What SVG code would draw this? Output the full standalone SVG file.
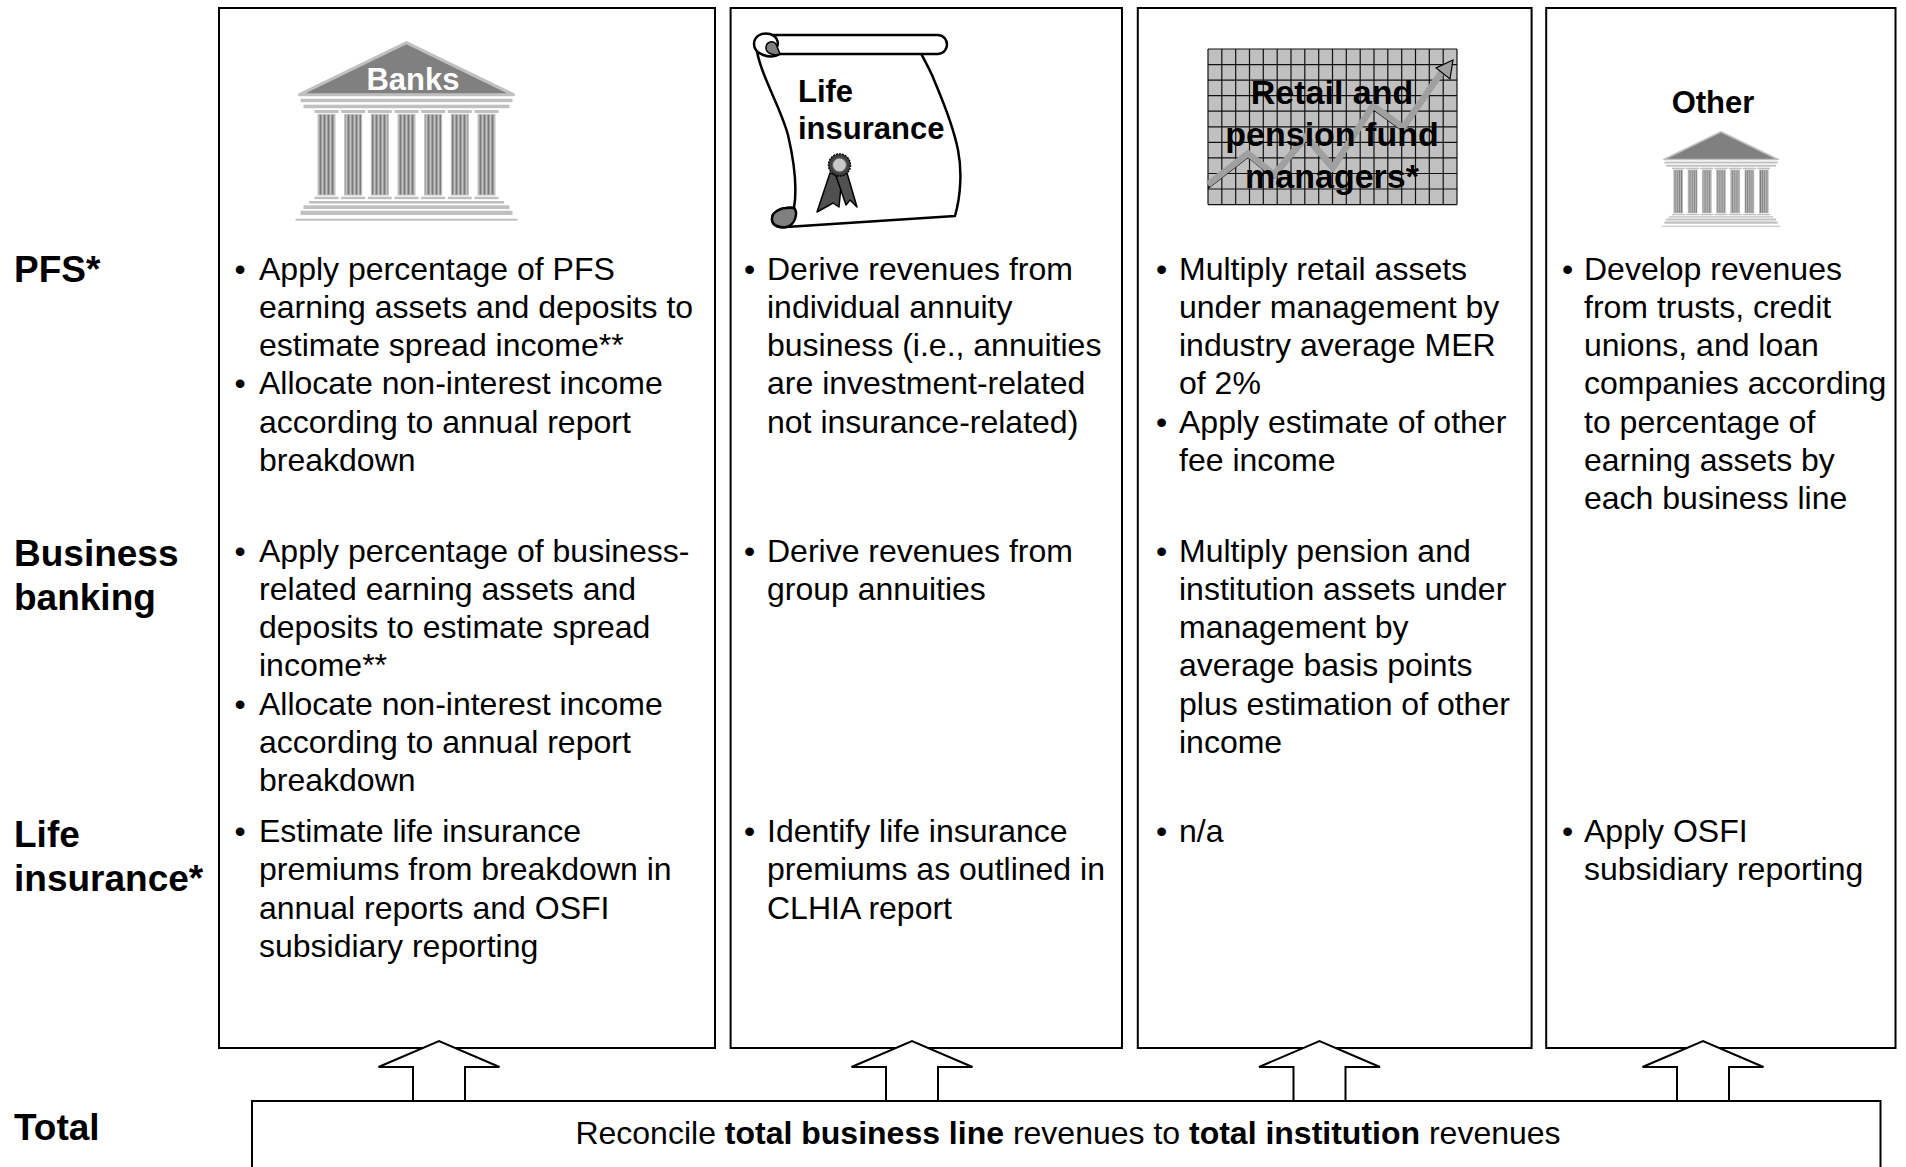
<svg xmlns="http://www.w3.org/2000/svg" width="1906" height="1167" viewBox="0 0 1906 1167">
<style>
.box{fill:#fff;stroke:#000;stroke-width:2}
.arrow{fill:#fff;stroke:#000;stroke-width:2;stroke-linejoin:miter}
.t{font-family:"Liberation Sans",Arial,sans-serif;font-size:32px;fill:#000}
.lbl{font-family:"Liberation Sans",Arial,sans-serif;font-size:37px;font-weight:bold;fill:#000}
.ico{font-family:"Liberation Sans",Arial,sans-serif;font-size:31px;font-weight:bold}
.chart{font-family:"Liberation Sans",Arial,sans-serif;font-size:34px;font-weight:bold;fill:#000}
.lt{fill:#c0c0c0}
.grid{stroke:#111;stroke-width:1.2}
</style>
<defs>
<pattern id="flute" width="4" height="10" patternUnits="userSpaceOnUse">
<rect width="4" height="10" fill="#c4c4c4"/>
<rect x="1" width="2" height="10" fill="#7a7a7a"/>
</pattern>
<g id="bank">
<polygon points="0,0 -107,52 107,52" fill="#808080" stroke="#c0c0c0" stroke-width="3" stroke-linejoin="round"/>
<rect class="lt" x="-106" y="56" width="212" height="3.5"/>
<rect class="lt" x="-103" y="62" width="206" height="3.5"/>
<g class="lt">
<rect x="-92" y="67.3" width="24" height="3"/><rect x="-65.3" y="67.3" width="24" height="3"/><rect x="-38.7" y="67.3" width="24" height="3"/><rect x="-12" y="67.3" width="24" height="3"/><rect x="14.7" y="67.3" width="24" height="3"/><rect x="41.3" y="67.3" width="24" height="3"/><rect x="68" y="67.3" width="24" height="3"/>
<rect x="-92" y="154" width="24" height="2.5"/><rect x="-65.3" y="154" width="24" height="2.5"/><rect x="-38.7" y="154" width="24" height="2.5"/><rect x="-12" y="154" width="24" height="2.5"/><rect x="14.7" y="154" width="24" height="2.5"/><rect x="41.3" y="154" width="24" height="2.5"/><rect x="68" y="154" width="24" height="2.5"/>
</g>
<g fill="url(#flute)" stroke="#c0c0c0" stroke-width="1">
<rect x="-88.5" y="71.6" width="17" height="80.7"/><rect x="-61.8" y="71.6" width="17" height="80.7"/><rect x="-35.2" y="71.6" width="17" height="80.7"/><rect x="-8.5" y="71.6" width="17" height="80.7"/><rect x="18.2" y="71.6" width="17" height="80.7"/><rect x="44.8" y="71.6" width="17" height="80.7"/><rect x="71.5" y="71.6" width="17" height="80.7"/>
</g>
<rect class="lt" x="-97.5" y="158.3" width="195" height="2.5"/>
<rect class="lt" x="-103" y="162.6" width="206" height="3.7"/>
<rect class="lt" x="-106" y="168" width="212" height="4.3"/>
<rect class="lt" x="-111" y="176" width="222" height="2"/>
</g>
</defs>

<g id="labels">
<text class="lbl" x="14" y="282">PFS*</text>
<text class="lbl" x="14" y="566">Business</text>
<text class="lbl" x="14" y="610">banking</text>
<text class="lbl" x="14" y="847">Life</text>
<text class="lbl" x="14" y="891">insurance*</text>
<text class="lbl" x="14" y="1140">Total</text>
</g>

<g id="node-banks">
<rect class="box" x="219" y="8" width="496" height="1040"/>
<use href="#bank" transform="translate(406.5,42.7)"/>
<text class="ico" x="413" y="90" text-anchor="middle" fill="#fff">Banks</text>
<g class="t">
<text x="234.6" y="279.5">•</text>
<text x="259" y="279.5"><tspan x="259" dy="0">Apply percentage of PFS</tspan><tspan x="259" dy="38.3">earning assets and deposits to</tspan><tspan x="259" dy="38.3">estimate spread income**</tspan></text>
<text x="234.6" y="394.4">•</text>
<text x="259" y="394.4"><tspan x="259" dy="0">Allocate non-interest income</tspan><tspan x="259" dy="38.3">according to annual report</tspan><tspan x="259" dy="38.3">breakdown</tspan></text>
<text x="234.6" y="561.5">•</text>
<text x="259" y="561.5"><tspan x="259" dy="0">Apply percentage of business-</tspan><tspan x="259" dy="38.3">related earning assets and</tspan><tspan x="259" dy="38.3">deposits to estimate spread</tspan><tspan x="259" dy="38.3">income**</tspan></text>
<text x="234.6" y="714.7">•</text>
<text x="259" y="714.7"><tspan x="259" dy="0">Allocate non-interest income</tspan><tspan x="259" dy="38.3">according to annual report</tspan><tspan x="259" dy="38.3">breakdown</tspan></text>
<text x="234.6" y="842">•</text>
<text x="259" y="842"><tspan x="259" dy="0">Estimate life insurance</tspan><tspan x="259" dy="38.3">premiums from breakdown in</tspan><tspan x="259" dy="38.3">annual reports and OSFI</tspan><tspan x="259" dy="38.3">subsidiary reporting</tspan></text>
</g>
</g>

<g id="node-life-insurance">
<rect class="box" x="730.6" y="8" width="391.4" height="1040"/>
<g stroke="#000" stroke-width="2.5" stroke-linejoin="round">
<path d="M756,46 C760,75 780,105 788,135 C795,165 797,190 794,208 C780,207 772,212 772,219 C772,226 780,228 786,227 L955,216 C961,195 962,170 958,150 C952,120 940,95 932,75 C926,62 922,56 921,53 Z" fill="#fff"/>
<path d="M794,208 C780,207 772,212 772,219 C772,226 780,228 786,227 C796,225 798,212 794,208 Z" fill="#808080"/>
<path d="M762,35 L938,35 C950,36 950,53 938,54 L780,54 Z" fill="#fff"/>
<path d="M780,54 C770,60 754,54 754,44 C754,36 762,32 770,34 C779,37 780,46 774,49" fill="#fff"/>
<path d="M780,54 C775,56 766,54 766,48 C766,42 772,40 776,44 Z" fill="#808080" stroke-width="1.5"/>
</g>
<text class="ico" x="798" y="102" fill="#000">Life</text>
<text class="ico" x="798" y="138.5" fill="#000">insurance</text>
<g stroke="#000" stroke-width="1.5" stroke-linejoin="round">
<polygon points="830,173 817,212 833,203 839,207 842,176" fill="#505050"/>
<polygon points="836,176 846,205 850,200 857,207 847,173" fill="#505050"/>
<circle cx="839.5" cy="165" r="11" fill="#404040" stroke-dasharray="2 1"/>
<circle cx="839.5" cy="165" r="7" fill="#c8c8c8" stroke="#606060" stroke-width="1.2"/>
</g>
<g class="t">
<text x="744" y="279.5">•</text>
<text x="767" y="279.5"><tspan x="767" dy="0">Derive revenues from</tspan><tspan x="767" dy="38.3">individual annuity</tspan><tspan x="767" dy="38.3">business (i.e., annuities</tspan><tspan x="767" dy="38.3">are investment-related</tspan><tspan x="767" dy="38.3">not insurance-related)</tspan></text>
<text x="744" y="561.5">•</text>
<text x="767" y="561.5"><tspan x="767" dy="0">Derive revenues from</tspan><tspan x="767" dy="38.3">group annuities</tspan></text>
<text x="744" y="842">•</text>
<text x="767" y="842"><tspan x="767" dy="0">Identify life insurance</tspan><tspan x="767" dy="38.3">premiums as outlined in</tspan><tspan x="767" dy="38.3">CLHIA report</tspan></text>
</g>
</g>

<g id="node-retail">
<rect class="box" x="1137.8" y="8" width="393.8" height="1040"/>
<rect x="1208" y="49" width="249" height="155.6" fill="#c0c0c0"/>
<g class="grid">
<path d="M1208,49V204.6M1221.8,49V204.6M1235.7,49V204.6M1249.5,49V204.6M1263.3,49V204.6M1277.2,49V204.6M1291,49V204.6M1304.8,49V204.6M1318.7,49V204.6M1332.5,49V204.6M1346.3,49V204.6M1360.2,49V204.6M1374,49V204.6M1387.8,49V204.6M1401.7,49V204.6M1415.5,49V204.6M1429.3,49V204.6M1443.2,49V204.6M1457,49V204.6"/>
<path d="M1208,49H1457M1208,64.6H1457M1208,80.1H1457M1208,95.7H1457M1208,111.2H1457M1208,126.8H1457M1208,142.4H1457M1208,157.9H1457M1208,173.5H1457M1208,189H1457M1208,204.6H1457"/>
</g>
<polyline points="1208,188 1248,157 1274,178 1306,140 1333,171 1373,109 1403,131 1446,69" fill="none" stroke="#000" stroke-width="1.6"/>
<polyline points="1208,184.5 1248,153.5 1274,174.5 1306,136.5 1333,167.5 1373,105.5 1403,127.5 1445,67" fill="none" stroke="#a0a0a0" stroke-width="6.5" stroke-linejoin="miter"/>
<polygon points="1453,60 1450,79 1436,68" fill="#a0a0a0" stroke="#000" stroke-width="1.2"/>
<text class="chart" x="1332" y="104" text-anchor="middle">Retail and</text>
<text class="chart" x="1332" y="146" text-anchor="middle">pension fund</text>
<text class="chart" x="1332" y="188" text-anchor="middle">managers*</text>
<g class="t">
<text x="1156" y="279.5">•</text>
<text x="1179" y="279.5"><tspan x="1179" dy="0">Multiply retail assets</tspan><tspan x="1179" dy="38.3">under management by</tspan><tspan x="1179" dy="38.3">industry average MER</tspan><tspan x="1179" dy="38.3">of 2%</tspan></text>
<text x="1156" y="432.7">•</text>
<text x="1179" y="432.7"><tspan x="1179" dy="0">Apply estimate of other</tspan><tspan x="1179" dy="38.3">fee income</tspan></text>
<text x="1156" y="561.5">•</text>
<text x="1179" y="561.5"><tspan x="1179" dy="0">Multiply pension and</tspan><tspan x="1179" dy="38.3">institution assets under</tspan><tspan x="1179" dy="38.3">management by</tspan><tspan x="1179" dy="38.3">average basis points</tspan><tspan x="1179" dy="38.3">plus estimation of other</tspan><tspan x="1179" dy="38.3">income</tspan></text>
<text x="1156" y="842">•</text>
<text x="1179" y="842">n/a</text>
</g>
</g>

<g id="node-other">
<rect class="box" x="1546.2" y="8" width="349.3" height="1040"/>
<text class="ico" x="1713" y="113" text-anchor="middle" fill="#000">Other</text>
<use href="#bank" transform="translate(1721,131.7) scale(0.534)"/>
<g class="t">
<text x="1562" y="279.5">•</text>
<text x="1584" y="279.5"><tspan x="1584" dy="0">Develop revenues</tspan><tspan x="1584" dy="38.3">from trusts, credit</tspan><tspan x="1584" dy="38.3">unions, and loan</tspan><tspan x="1584" dy="38.3">companies according</tspan><tspan x="1584" dy="38.3">to percentage of</tspan><tspan x="1584" dy="38.3">earning assets by</tspan><tspan x="1584" dy="38.3">each business line</tspan></text>
<text x="1562" y="842">•</text>
<text x="1584" y="842"><tspan x="1584" dy="0">Apply OSFI</tspan><tspan x="1584" dy="38.3">subsidiary reporting</tspan></text>
</g>
</g>

<g id="node-total">
<rect class="box" x="252" y="1101" width="1628.5" height="80"/>
<text class="t" x="1068" y="1144" text-anchor="middle">Reconcile <tspan font-weight="bold">total business line</tspan> revenues to <tspan font-weight="bold">total institution</tspan> revenues</text>
</g>

<g id="connectors">
<path class="arrow" d="M413,1101V1067H378.5L439,1041L499.5,1067H465V1101Z"/>
<path class="arrow" d="M886,1101V1067H851.5L912,1041L972.5,1067H938V1101Z"/>
<path class="arrow" d="M1293.5,1101V1067H1259L1319.5,1041L1380,1067H1345.5V1101Z"/>
<path class="arrow" d="M1677,1101V1067H1642.5L1703,1041L1763.5,1067H1729V1101Z"/>
</g>
</svg>
